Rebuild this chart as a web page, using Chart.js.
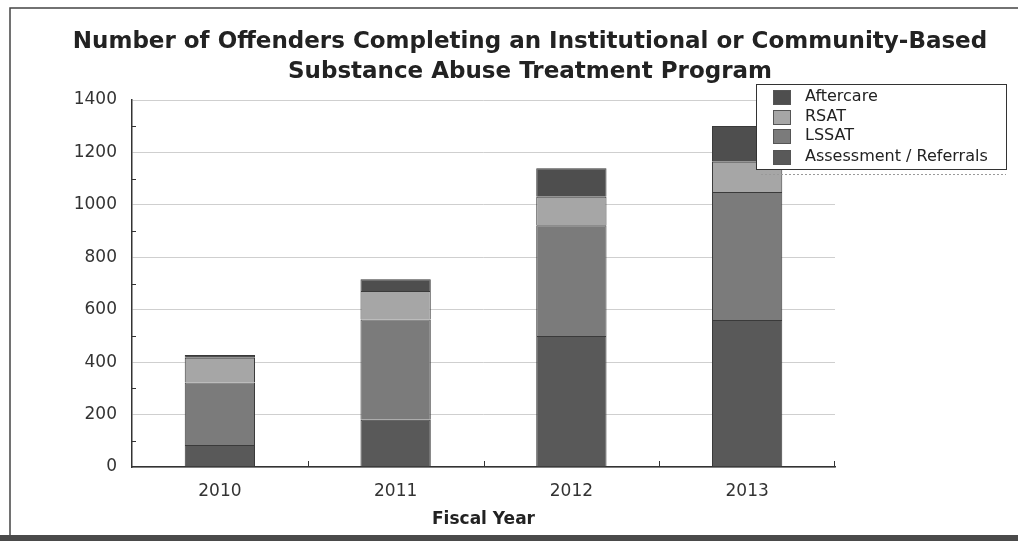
<!DOCTYPE html>
<html>
<head>
<meta charset="utf-8">
<script src="https://cdn.jsdelivr.net/npm/chart.js@4"></script>
<style>
  html, body { margin: 0; padding: 0; background: #fff; }
  #wrap { position: relative; width: 1018px; height: 541px; }
</style>
</head>
<body>
<div id="wrap"><canvas id="chart" width="1018" height="541"></canvas></div>
<script>
const years = ['2010', '2011', '2012', '2013'];
const assessment = [84, 180, 500, 561];
const lssat = [238, 383, 422, 488];
const rsat = [95, 108, 109, 115];
const aftercare = [10, 45, 109, 137];
const yTicks = [0, 200, 400, 600, 800, 1000, 1200, 1400];

const seriesNames = ['Assessment / Referrals', 'LSSAT', 'RSAT', 'Aftercare'];
const seriesColors = ['#595959', '#7b7b7b', '#a6a6a6', '#4e4e4e'];
const titleLines = ['Number of Offenders Completing an Institutional or Community-Based', 'Substance Abuse Treatment Program'];
const FONT = '"DejaVu Sans", sans-serif';

// frame around the whole picture, the title, and dark strip at the bottom
const framePlugin = {
  id: 'frame',
  beforeDraw(chart) {
    const c = chart.ctx;
    c.save();
    c.fillStyle = '#fff';
    c.fillRect(0, 0, chart.width, chart.height);
    c.strokeStyle = '#444';
    c.lineWidth = 1.5;
    c.beginPath();
    c.moveTo(10, 535);
    c.lineTo(10, 8);
    c.lineTo(chart.width, 8);
    c.stroke();
    c.fillStyle = '#4a4a4a';
    c.fillRect(0, 535, chart.width, 6);
    c.fillStyle = '#222';
    c.font = 'bold 23px ' + FONT;
    c.textAlign = 'center';
    c.textBaseline = 'middle';
    c.fillText(titleLines[0], 530, 42);
    c.fillText(titleLines[1], 530, 72);
    c.restore();
  }
};

// legend box drawn over the plot, top right
const boxLegend = {
  id: 'boxLegend',
  afterDraw(chart) {
    const c = chart.ctx;
    const x = 756, y = 84, w = 250, h = 85;
    c.save();
    c.fillStyle = '#fff';
    c.fillRect(x, y, w, h);
    c.strokeStyle = '#333';
    c.lineWidth = 1;
    c.strokeRect(x + 0.5, y + 0.5, w, h);
    c.strokeStyle = '#999';
    c.setLineDash([2, 2]);
    c.beginPath();
    c.moveTo(x + 5, y + h + 5.5);
    c.lineTo(x + w, y + h + 5.5);
    c.stroke();
    c.setLineDash([]);
    c.font = '16px ' + FONT;
    c.textBaseline = 'middle';
    const ds = chart.data.datasets.slice().reverse();
    const rows = [97, 117, 136, 157];
    ds.forEach((d, i) => {
      c.fillStyle = d.backgroundColor;
      c.fillRect(773, rows[i] - 7, 18, 15);
      c.strokeStyle = '#555';
      c.strokeRect(773.5, rows[i] - 6.5, 17, 14);
      c.fillStyle = '#222';
      c.fillText(d.label, 805, rows[i]);
    });
    c.restore();
  }
};

// small tick marks between the years, and minor y ticks
const tickPlugin = {
  id: 'extraTicks',
  afterDatasetsDraw(chart) {
    const xs = chart.scales.x, ys = chart.scales.y;
    const c = chart.ctx;
    const step = xs.getPixelForTick(1) - xs.getPixelForTick(0);
    c.save();
    c.strokeStyle = '#333';
    c.lineWidth = 1;
    for (let i = 0; i < years.length; i++) {
      const px = i < years.length - 1 ? Math.round(xs.getPixelForTick(i) + step / 2) + 0.5 : xs.right - 0.5;
      c.beginPath();
      c.moveTo(px, ys.bottom);
      c.lineTo(px, ys.bottom - 6);
      c.stroke();
    }
    for (let v = 100; v < 1400; v += 200) {
      const py = Math.round(ys.getPixelForValue(v)) + 0.5;
      c.beginPath();
      c.moveTo(xs.left, py);
      c.lineTo(xs.left + 4, py);
      c.stroke();
    }
    c.restore();
  }
};

const datasets = [assessment, lssat, rsat, aftercare].map((vals, i) => ({
  label: seriesNames[i],
  data: vals,
  backgroundColor: seriesColors[i],
  borderColor: '#3a3a3a',
  borderWidth: 1,
  barPercentage: 0.8,
  categoryPercentage: 0.5
}));

new Chart(document.getElementById('chart'), {
  type: 'bar',
  data: { labels: years, datasets: datasets },
  plugins: [framePlugin, boxLegend, tickPlugin],
  options: {
    responsive: false,
    animation: false,
    layout: { padding: { left: 0, right: 183, top: 100, bottom: 0 } },
    plugins: {
      legend: { display: false },
      tooltip: { enabled: false },
      title: { display: false }
    },
    scales: {
      x: {
        stacked: true,
        grid: { display: false },
        border: { color: '#333', width: 1.5 },
        ticks: { color: '#333', font: { family: FONT, size: 17 }, padding: 6 },
        title: {
          display: true,
          text: 'Fiscal Year',
          color: '#222',
          font: { family: FONT, size: 17, weight: 'bold' },
          padding: { top: 0, bottom: 11 }
        },
        afterFit(s) { s.height = 74; }
      },
      y: {
        stacked: true,
        min: 0,
        max: 1400,
        afterBuildTicks(s) { s.ticks = yTicks.map(v => ({ value: v })); },
        grid: { color: '#cfcfcf', tickLength: 0, lineWidth: 1 },
        border: { color: '#333', width: 1.5 },
        ticks: {
          color: '#333',
          font: { family: FONT, size: 17 },
          padding: 15,
          callback: v => String(v)
        },
        afterFit(s) { s.width = 132; }
      }
    }
  }
});
</script>
</body>
</html>
